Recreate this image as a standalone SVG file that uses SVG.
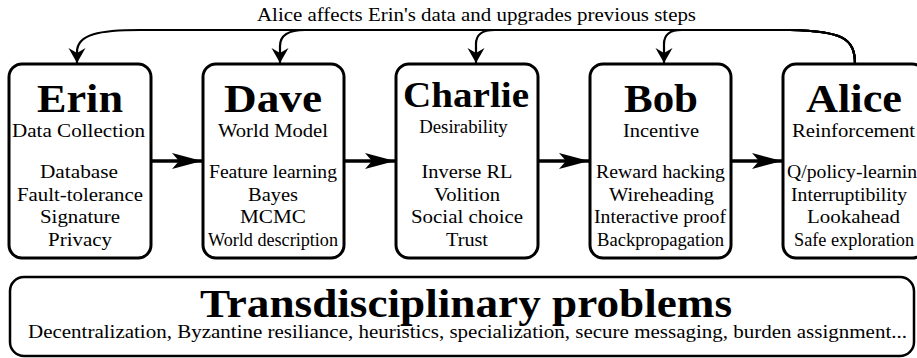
<svg xmlns="http://www.w3.org/2000/svg" width="917" height="358" viewBox="0 0 917 358">
<defs>
<style>
.box{fill:#fff;stroke:#000;stroke-width:3}
text{font-family:'Liberation Serif','Times New Roman',Tinos,'Noto Serif','DejaVu Serif',serif;fill:#000;text-anchor:middle}
.title{font-weight:bold;font-size:40.5px}
.sub{font-size:19px}
.item{font-size:19px}
.flow{fill:none;stroke:#000;stroke-width:3.5}
.back{fill:none;stroke:#000;stroke-width:2.2}
</style>
<marker id="big" markerUnits="userSpaceOnUse" viewBox="-31 -9 32 18" refX="0" refY="0" markerWidth="32" markerHeight="18" orient="auto">
<path d="M0,0 L-30,-8 L-23,0 L-30,8 Z" fill="#000"/>
</marker>
<marker id="small" markerUnits="userSpaceOnUse" viewBox="-16 -10 17 20" refX="0" refY="0" markerWidth="17" markerHeight="20" orient="auto">
<path d="M0,0 L-15,-8.5 L-10,0 L-15,8.5 Z" fill="#000"/>
</marker>
</defs>
<rect width="917" height="358" fill="#fff"/>

<g id="connectors">
<path class="flow" d="M151,161 L202,161" marker-end="url(#big)"/>
<path class="flow" d="M344,161 L395,161" marker-end="url(#big)"/>
<path class="flow" d="M538,161 L589,161" marker-end="url(#big)"/>
<path class="flow" d="M731,161 L782,161" marker-end="url(#big)"/>
<path class="back" d="M855,64 C855,38 842,31 790,30 L140,30 C100,30 77,34 77,52 L77,63" marker-end="url(#small)"/>
<path class="back" d="M855,64 C855,38 842,31 790,30 L305,30 C290,30 280,34 280,46 L280,63" marker-end="url(#small)"/>
<path class="back" d="M855,64 C855,38 842,31 790,30 L495,30 C482,30 476,34 476,44 L476,63" marker-end="url(#small)"/>
<path class="back" d="M855,64 C855,38 842,31 790,30 L682,30 C670,30 664,34 664,44 L664,63" marker-end="url(#small)"/>
<text x="476.5" y="21" font-size="19" textLength="439" lengthAdjust="spacingAndGlyphs">Alice affects Erin's data and upgrades previous steps</text>
</g>

<g id="erin">
<rect class="box" x="9" y="64" width="142" height="194" rx="13"/>
<text class="title" x="80" y="112" textLength="86" lengthAdjust="spacingAndGlyphs">Erin</text>
<text class="sub" x="78.5" y="137" textLength="133" lengthAdjust="spacingAndGlyphs">Data Collection</text>
<text class="item" x="79" y="178" textLength="78" lengthAdjust="spacingAndGlyphs">Database</text>
<text class="item" x="80" y="200.5" textLength="126" lengthAdjust="spacingAndGlyphs">Fault-tolerance</text>
<text class="item" x="80" y="223" textLength="80" lengthAdjust="spacingAndGlyphs">Signature</text>
<text class="item" x="80" y="245.5" textLength="64" lengthAdjust="spacingAndGlyphs">Privacy</text>
</g>

<g id="dave">
<rect class="box" x="203" y="64" width="141" height="194" rx="13"/>
<text class="title" x="273" y="112" textLength="98" lengthAdjust="spacingAndGlyphs">Dave</text>
<text class="sub" x="273" y="137" textLength="110" lengthAdjust="spacingAndGlyphs">World Model</text>
<text class="item" x="273" y="178" textLength="128" lengthAdjust="spacingAndGlyphs">Feature learning</text>
<text class="item" x="273" y="200.5" textLength="50" lengthAdjust="spacingAndGlyphs">Bayes</text>
<text class="item" x="273" y="223" textLength="66" lengthAdjust="spacingAndGlyphs">MCMC</text>
<text class="item" x="273" y="245.5" textLength="130" lengthAdjust="spacingAndGlyphs">World description</text>
</g>

<g id="charlie">
<rect class="box" x="396" y="64" width="142" height="194" rx="13"/>
<text class="title" x="466" y="107" style="font-size:36.5px" textLength="126" lengthAdjust="spacingAndGlyphs">Charlie</text>
<text class="sub" x="463.5" y="133" style="font-size:18px" textLength="88.5" lengthAdjust="spacingAndGlyphs">Desirability</text>
<text class="item" x="467" y="178" textLength="91" lengthAdjust="spacingAndGlyphs">Inverse RL</text>
<text class="item" x="467" y="200.5" textLength="66" lengthAdjust="spacingAndGlyphs">Volition</text>
<text class="item" x="467" y="223" textLength="112" lengthAdjust="spacingAndGlyphs">Social choice</text>
<text class="item" x="467" y="245.5" textLength="42" lengthAdjust="spacingAndGlyphs">Trust</text>
</g>

<g id="bob">
<rect class="box" x="590" y="64" width="141" height="194" rx="13"/>
<text class="title" x="661" y="112" textLength="74" lengthAdjust="spacingAndGlyphs">Bob</text>
<text class="sub" x="661" y="137" textLength="76" lengthAdjust="spacingAndGlyphs">Incentive</text>
<text class="item" x="660.5" y="178" textLength="129" lengthAdjust="spacingAndGlyphs">Reward hacking</text>
<text class="item" x="661.5" y="200.5" textLength="105" lengthAdjust="spacingAndGlyphs">Wireheading</text>
<text class="item" x="660" y="223" textLength="132" lengthAdjust="spacingAndGlyphs">Interactive proof</text>
<text class="item" x="660.5" y="245.5" textLength="127" lengthAdjust="spacingAndGlyphs">Backpropagation</text>
</g>

<g id="alice">
<rect class="box" x="783" y="64" width="142" height="194" rx="13"/>
<text class="title" x="854" y="112" textLength="96" lengthAdjust="spacingAndGlyphs">Alice</text>
<text class="sub" x="853.5" y="137" textLength="123" lengthAdjust="spacingAndGlyphs">Reinforcement</text>
<text class="item" x="857" y="178" textLength="140" lengthAdjust="spacingAndGlyphs">Q/policy-learning</text>
<text class="item" x="849" y="200.5" textLength="116" lengthAdjust="spacingAndGlyphs">Interruptibility</text>
<text class="item" x="853.5" y="223" textLength="93" lengthAdjust="spacingAndGlyphs">Lookahead</text>
<text class="item" x="854" y="245.5" textLength="120" lengthAdjust="spacingAndGlyphs">Safe exploration</text>
</g>

<g id="transdisciplinary">
<rect x="10" y="277" width="904" height="79" rx="14" fill="#fff" stroke="#000" stroke-width="2.5"/>
<text x="466" y="317" style="font-size:41px;font-weight:bold" textLength="532" lengthAdjust="spacingAndGlyphs">Transdisciplinary problems</text>
<text x="467.5" y="338" style="font-size:18.5px" textLength="879" lengthAdjust="spacingAndGlyphs">Decentralization, Byzantine resiliance, heuristics, specialization, secure messaging, burden assignment...</text>
</g>
</svg>
